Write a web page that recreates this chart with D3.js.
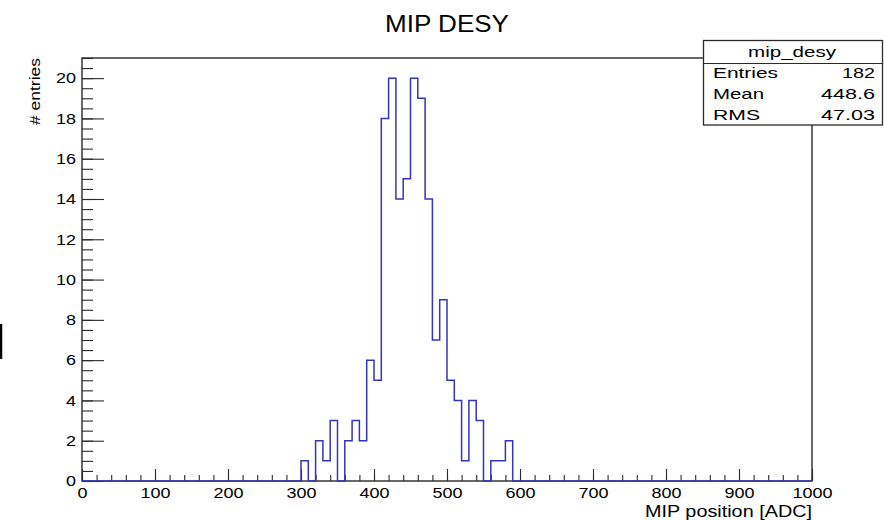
<!DOCTYPE html>
<html>
<head>
<meta charset="utf-8">
<script src="https://cdn.jsdelivr.net/npm/d3@7"></script>
<style>
  body { margin: 0; background: #fff; }
  text { font-family: "Liberation Sans", Arial, Helvetica, sans-serif; fill: #000; }
</style>
</head>
<body>
<div id="view-container"></div>
<script>
// ************** data ***********************************
// lower edge of each filled bin (bin width 10 ADC), everything else is 0
var binLow = [300, 310, 320, 330, 340, 350, 360, 370, 380, 390,
              400, 410, 420, 430, 440, 450, 460, 470, 480, 490,
              500, 510, 520, 530, 540, 550, 560, 570, 580];
var binCount = [1, 0, 2, 1, 3, 0, 2, 3, 2, 6,
                5, 18, 20, 14, 15, 20, 19, 14, 7, 9,
                5, 4, 1, 4, 3, 0, 1, 1, 2];
var binWidth = 10;

var xMajorTicks = [0, 100, 200, 300, 400, 500, 600, 700, 800, 900, 1000];
var yMajorTicks = [0, 2, 4, 6, 8, 10, 12, 14, 16, 18, 20];

var statsLabels = ["Entries", "Mean", "RMS"];
var statsValues = ["182", "448.6", "47.03"];

// ************** layout *****************
var widthTotal = 884;
var heightTotal = 520;
var margin = {top: 58, right: 72, bottom: 39, left: 82},
    width = widthTotal - margin.left - margin.right,
    height = heightTotal - margin.top - margin.bottom;

var histColor = "#3434bc";
var frameColor = "#2a2a2a";
var stretch = 1.2;   // the ROOT fonts are a bit wider than Liberation Sans

var svg = d3.select("#view-container").append("svg")
  .attr("width", widthTotal)
  .attr("height", heightTotal);

var g = svg.append("g")
  .attr("transform", "translate(" + margin.left + "," + margin.top + ")");

var x = d3.scaleLinear().domain([0, 1000]).range([0, width]);
var y = d3.scaleLinear().domain([0, 21]).range([height, 0]);

//minor ticks (no labels)
g.append("g")
  .attr("class", "x-minor")
  .attr("transform", "translate(0," + height + ")")
  .call(d3.axisBottom(x).tickValues(d3.range(0, 1001, 20)).tickSize(-6).tickFormat(""));

g.append("g")
  .attr("class", "y-minor")
  .call(d3.axisLeft(y).tickValues(d3.range(0, 21.01, 0.5)).tickSize(-11).tickFormat(""));

//major ticks with labels
var xAxis = g.append("g")
  .attr("class", "x-major")
  .attr("transform", "translate(0," + height + ")")
  .call(d3.axisBottom(x).tickValues(xMajorTicks).tickSize(-12).tickPadding(6.5).tickFormat(d3.format("d")));

var yAxis = g.append("g")
  .attr("class", "y-major")
  .call(d3.axisLeft(y).tickValues(yMajorTicks).tickSize(-22).tickPadding(5).tickFormat(d3.format("d")));

g.selectAll(".domain").remove();
g.selectAll(".tick line").attr("stroke", frameColor).attr("stroke-width", 1.1);
g.selectAll(".tick text")
  .attr("font-family", "Liberation Sans, Arial, sans-serif")
  .attr("font-size", 15)
  .attr("fill", "#000")
  .attr("transform", "scale(" + stretch + ",1)");

//frame
g.append("rect")
  .attr("x", 0)
  .attr("y", 0)
  .attr("width", width)
  .attr("height", height)
  .attr("fill", "none")
  .attr("stroke", frameColor)
  .attr("stroke-width", 1.4);

//histogram outline, drawn over the whole axis range like ROOT does
var histPoints = [{x: 0, y: 0}];
binLow.forEach(function(d, i) { histPoints.push({x: d, y: binCount[i]}); });
histPoints.push({x: binLow[binLow.length - 1] + binWidth, y: 0});
histPoints.push({x: 1000, y: 0});

var line = d3.line()
  .x(function(d) { return x(d.x); })
  .y(function(d) { return y(d.y); })
  .curve(d3.curveStepAfter);

g.append("path")
  .datum(histPoints)
  .attr("d", line)
  .attr("fill", "none")
  .attr("stroke", histColor)
  .attr("stroke-width", 1.5);

//plain text helper, width forced to what the picture shows
function addText(parent, xPos, yPos, str, size, len) {
  return parent.append("text")
    .attr("x", xPos)
    .attr("y", yPos)
    .attr("font-size", size)
    .attr("textLength", len)
    .attr("lengthAdjust", "spacingAndGlyphs")
    .text(str);
}

//titles
addText(svg, 385, 31.5, "MIP DESY", 23, 124);
addText(svg, 645, 516.5, "MIP position [ADC]", 17, 167);

svg.append("g")
  .attr("transform", "translate(39.5,0) rotate(-90)")
  .call(function(sel) { addText(sel, -125, 0, "# entries", 15, 67); });

//stats box
var stats = svg.append("g").attr("id", "stats");
stats.append("rect")
  .attr("x", 703.5)
  .attr("y", 40.5)
  .attr("width", 179)
  .attr("height", 84.5)
  .attr("fill", "#fff")
  .attr("stroke", frameColor)
  .attr("stroke-width", 1.3);
stats.append("line")
  .attr("x1", 703.5).attr("x2", 882.5)
  .attr("y1", 63.5).attr("y2", 63.5)
  .attr("stroke", frameColor)
  .attr("stroke-width", 1.1);

addText(stats, 748, 57, "mip_desy", 15, 88);

var rowY = [78, 98.5, 120];
var labelLen = [65, 51, 47];
var valueLen = [33, 54, 54];
statsLabels.forEach(function(d, i) {
  addText(stats, 713, rowY[i], d, 15, labelLen[i]);
  addText(stats, 875 - valueLen[i], rowY[i], statsValues[i], 15, valueLen[i]);
});

//stray mark at the left edge of the picture
svg.append("line")
  .attr("x1", 1).attr("x2", 1)
  .attr("y1", 324).attr("y2", 359)
  .attr("stroke", "#000")
  .attr("stroke-width", 2.5);
</script>
</body>
</html>
